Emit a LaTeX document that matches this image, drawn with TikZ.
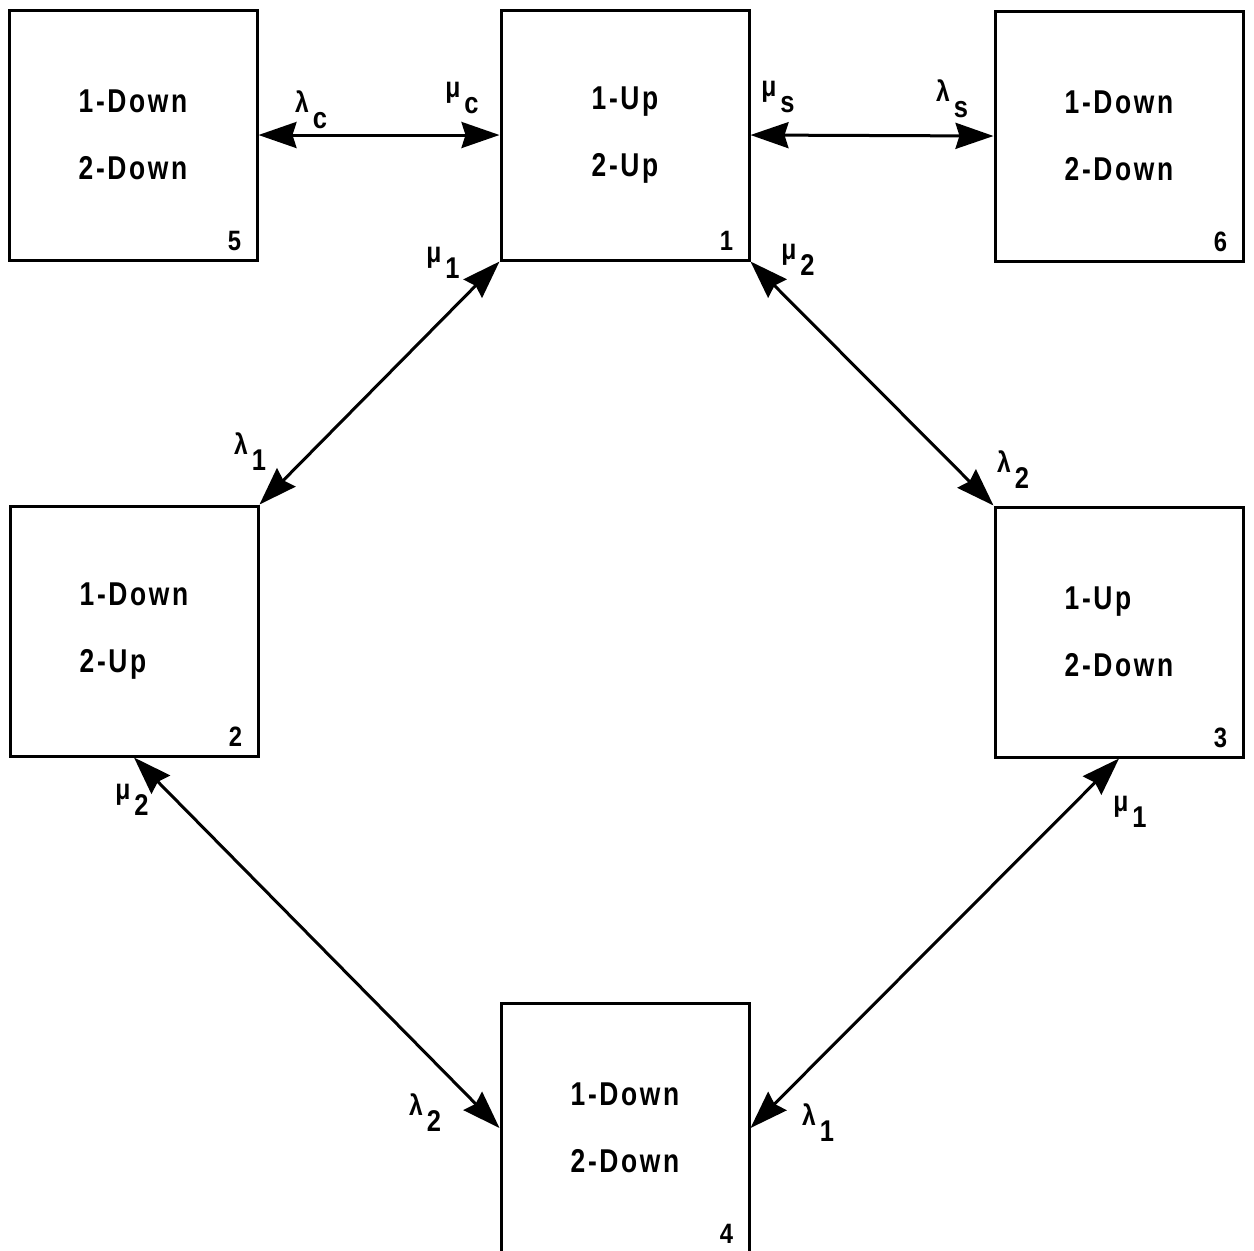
\documentclass[tikz,border=0pt]{standalone}
\usepackage{fontspec}
\setmainfont{Liberation Sans}
\newfontfamily\statefont[FakeStretch=0.8,LetterSpace=8]{Liberation Sans Bold}
\newfontfamily\ratefont[FakeStretch=0.85]{Liberation Sans Bold}
\usetikzlibrary{arrows.meta}

\tikzset{every picture/.style={line width=1.5pt}}
\tikzset{
  statebox/.style={draw, rectangle, minimum width=124pt, minimum height=125pt, inner sep=0pt,
    align=left, font=\statefont\fontsize{16.5}{33.5}\selectfont},
  numlabel/.style={anchor=base east, inner sep=0pt, font=\ratefont\fontsize{14}{14}\selectfont},
  ratelabel/.style={inner sep=0pt},
  ratearrow/.style={{Stealth[length=19pt,width=13pt,inset=2pt]}-{Stealth[length=19pt,width=13pt,inset=2pt]}}
}
% rate label: small greek letter, large subscript below right
\newcommand{\rate}[2]{\raisebox{8pt}{\ratefont\fontsize{14.5}{14.5}\selectfont #1}\hspace{2pt}{\ratefont\fontsize{15}{15}\selectfont #2}}

\begin{document}
\begin{tikzpicture}[x=0.5pt,y=0.5pt,yscale=-1,xscale=1]
\useasboundingbox (0,0) rectangle (1254,1250);
\clip (0,0) rectangle (1254,1250);

% State boxes
\node[statebox] (s5) at (133,135) {1-Down\\2-Down};
\node[statebox] (s1) at (625,135) {1-Up\\2-Up};
\node[statebox] (s6) at (1119,136) {1-Down\\2-Down};
\node[statebox] (s2) at (134,631) {1-Down\\2-Up};
\node[statebox] (s3) at (1119,632) {1-Up\\2-Down};
\node[statebox] (s4) at (625,1128) {1-Down\\2-Down};

% State numbers
\node[numlabel] (n5) at ([xshift=-8pt,yshift=-5.5pt]s5.south east) {5};
\node[numlabel] (n1) at ([xshift=-8pt,yshift=-5.5pt]s1.south east) {1};
\node[numlabel] (n6) at ([xshift=-8pt,yshift=-5.5pt]s6.south east) {6};
\node[numlabel] (n2) at ([xshift=-8pt,yshift=-5.5pt]s2.south east) {2};
\node[numlabel] (n3) at ([xshift=-8pt,yshift=-5.5pt]s3.south east) {3};
\node[numlabel] (n4) at ([xshift=-8pt,yshift=-5.5pt]s4.south east) {4};

%Straight Lines
\draw[ratearrow] (s5.east) -- (s1.west);
\draw[ratearrow] (s1.east) -- (s6.west);
\draw[ratearrow] (s1.south west) -- (s2.north east);
\draw[ratearrow] (s1.south east) -- (s3.north west);
\draw[ratearrow] (s2.south) -- (s4.west);
\draw[ratearrow] (s3.south) -- (s4.east);

% Text Node
\node[ratelabel] (lc) at (311,110) {\rate{λ}{c}};
\node[ratelabel] (mc) at (462,98) {\rate{μ}{c}};
\node[ratelabel] (ms) at (778,97) {\rate{μ}{s}};
\node[ratelabel] (ls) at (952,99) {\rate{λ}{s}};
\node[ratelabel] (m1a) at (443,263) {\rate{μ}{1}};
\node[ratelabel] (m2a) at (798,260) {\rate{μ}{2}};
\node[ratelabel] (l1a) at (250,452) {\rate{λ}{1}};
\node[ratelabel] (l2a) at (1013,470) {\rate{λ}{2}};
\node[ratelabel] (m2b) at (132,800) {\rate{μ}{2}};
\node[ratelabel] (m1b) at (1130,812) {\rate{μ}{1}};
\node[ratelabel] (l2b) at (425,1113) {\rate{λ}{2}};
\node[ratelabel] (l1b) at (818,1123) {\rate{λ}{1}};

\end{tikzpicture}
\end{document}
